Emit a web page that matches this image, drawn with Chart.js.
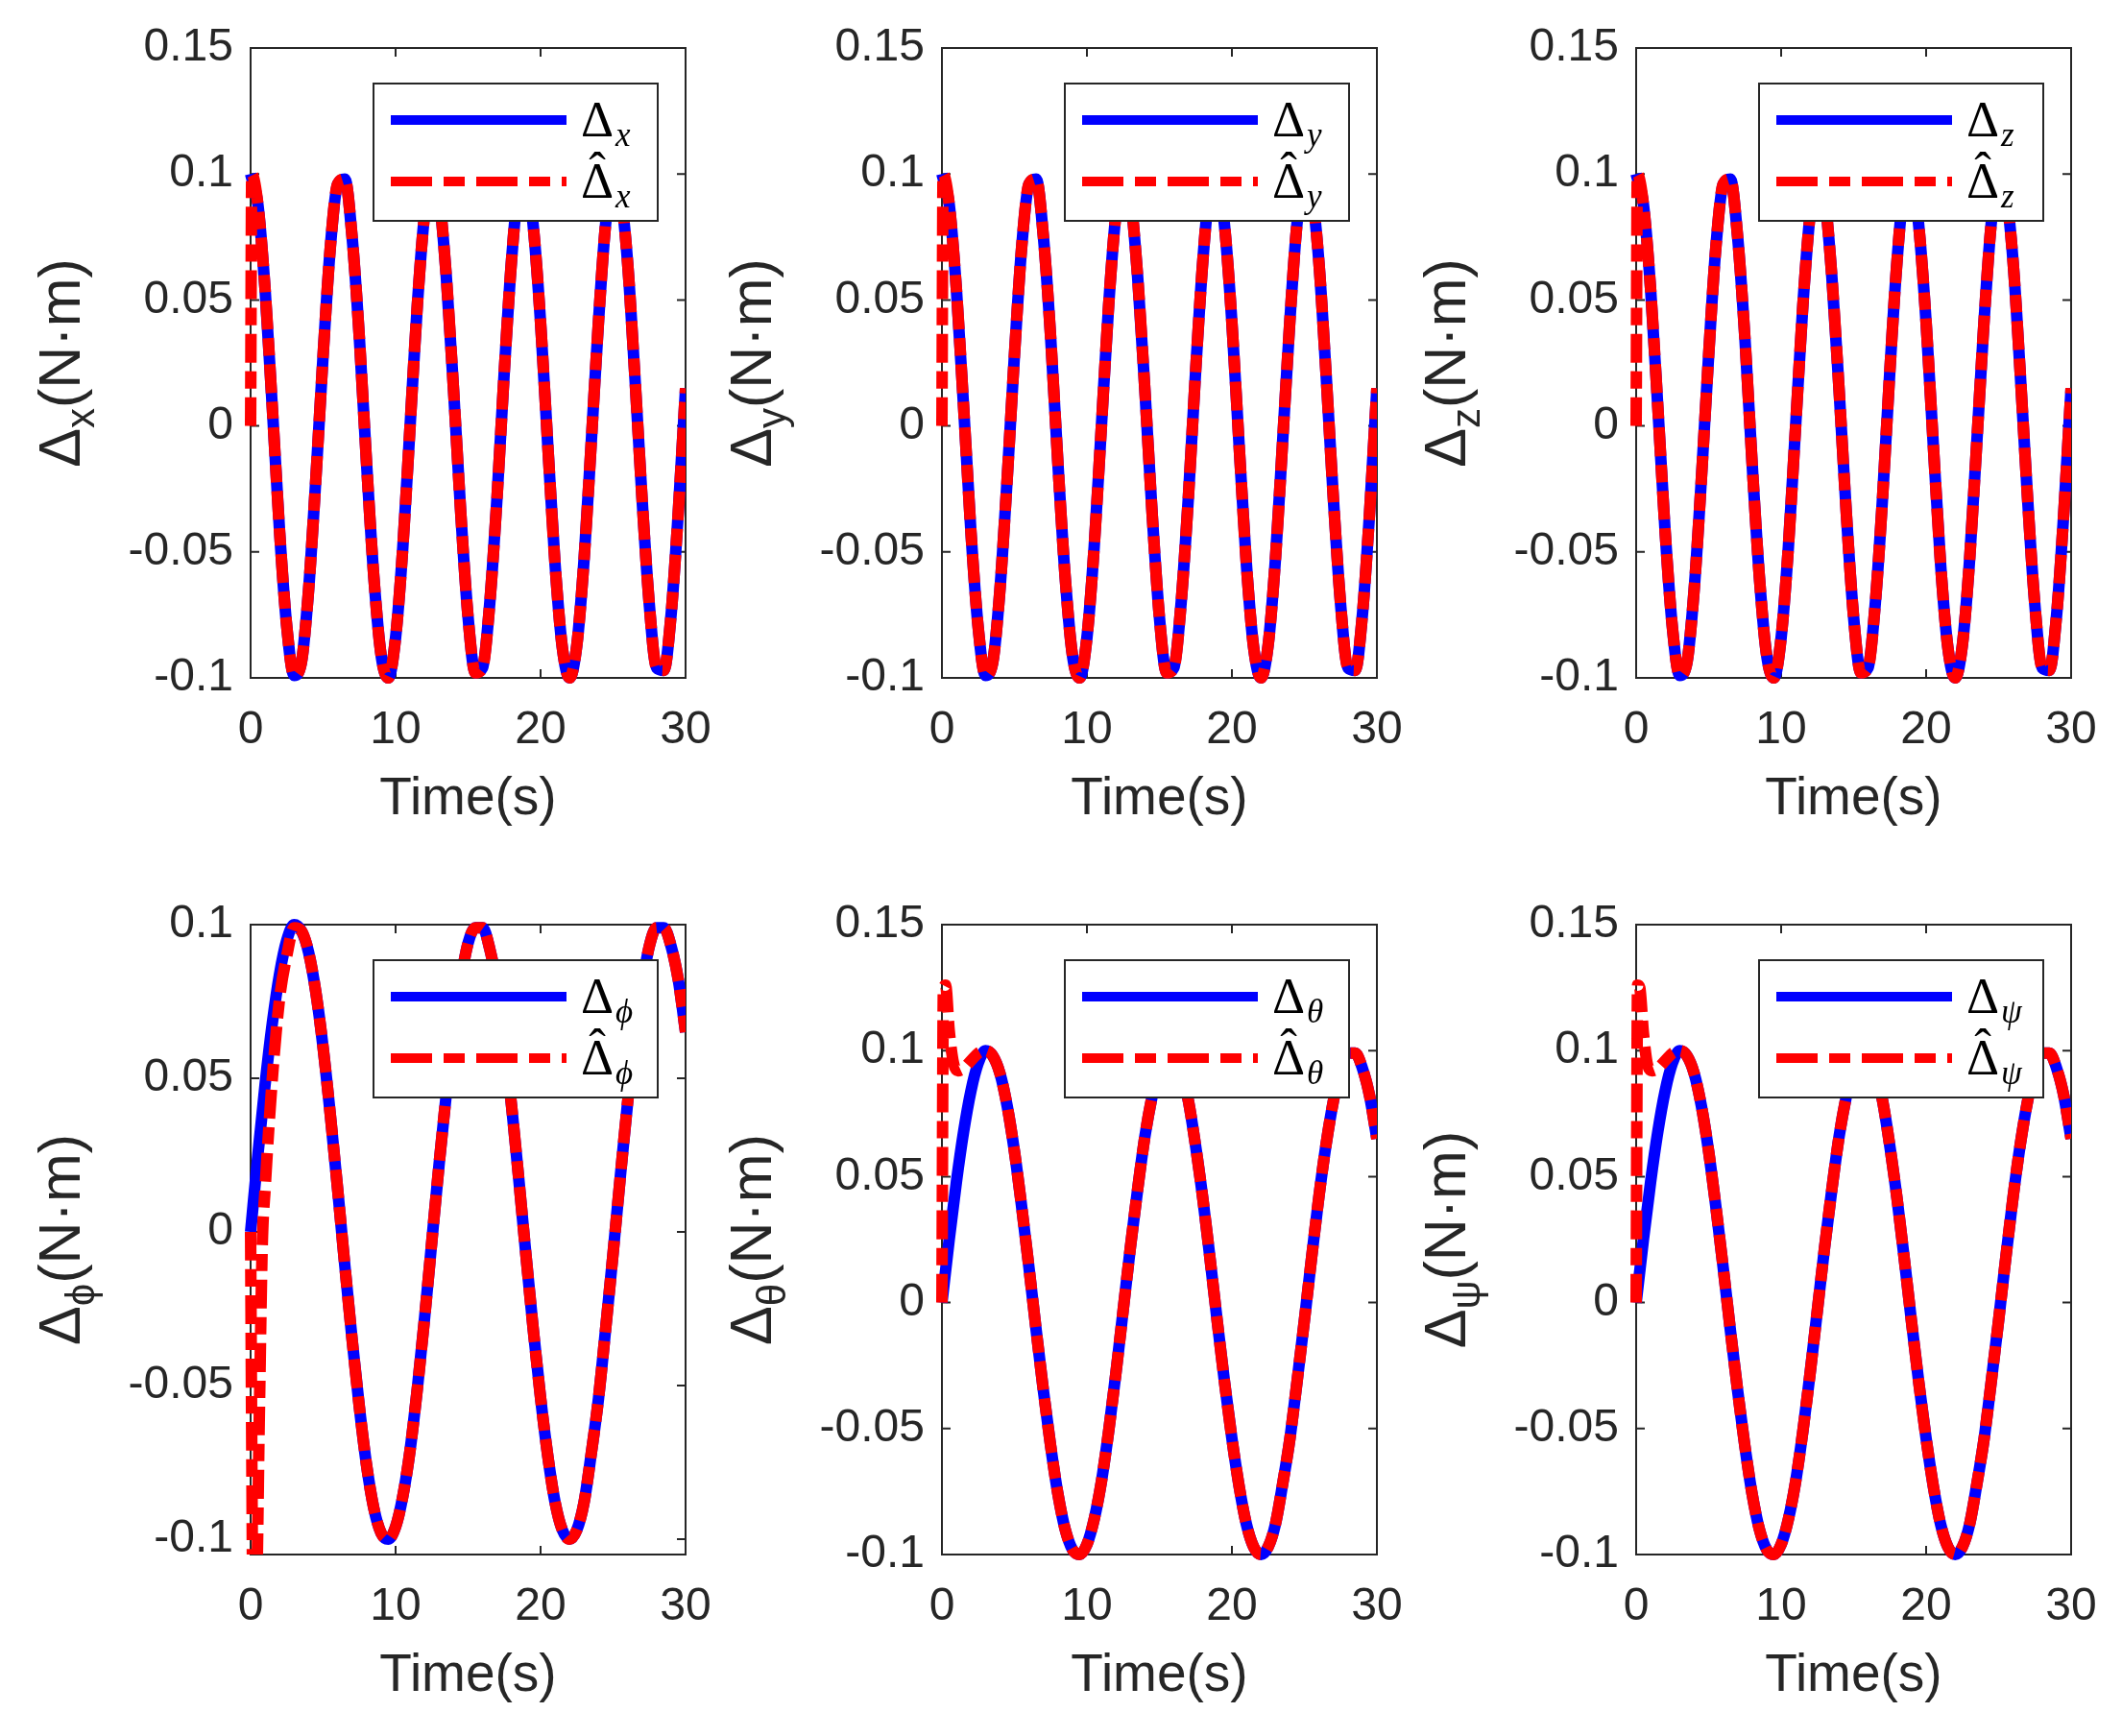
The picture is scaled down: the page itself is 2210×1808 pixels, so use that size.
<!DOCTYPE html>
<html>
<head>
<meta charset="utf-8">
<script src="https://cdn.jsdelivr.net/npm/chart.js@4.4.0/dist/chart.umd.min.js"></script>
<style>
  html, body { margin: 0; padding: 0; background: #fff; }
  body { width: 2210px; height: 1808px; position: relative; overflow: hidden; }
  canvas { position: absolute; }
</style>
</head>
<body>
<canvas id="px"></canvas>
<canvas id="py"></canvas>
<canvas id="pz"></canvas>
<canvas id="pphi"></canvas>
<canvas id="ptheta"></canvas>
<canvas id="ppsi"></canvas>
<script>
// sample times (s)
const times = [0, 0.5, 1, 1.5, 2, 2.5, 3, 3.5, 4, 4.5, 5, 5.5, 6, 6.5, 7, 7.5, 8, 8.5, 9, 9.5,
  10, 10.5, 11, 11.5, 12, 12.5, 13, 13.5, 14, 14.5, 15, 15.5, 16, 16.5, 17, 17.5, 18, 18.5, 19, 19.5,
  20, 20.5, 21, 21.5, 22, 22.5, 23, 23.5, 24, 24.5, 25, 25.5, 26, 26.5, 27, 27.5, 28, 28.5, 29, 29.5, 30];

// tick labels
const xTicks = [0, 10, 20, 30];
const yTicksWide = [-0.1, -0.05, 0, 0.05, 0.1, 0.15];
const yTicksPhi = [-0.1, -0.05, 0, 0.05, 0.1];

// force disturbance (top row, same curve for x, y, z)
const deltaForce = [0.100, 0.088, 0.054, 0.007, -0.042, -0.080, -0.099, -0.094, -0.065, -0.021,
  0.028, 0.071, 0.096, 0.098, 0.075, 0.035, -0.015, -0.060, -0.091, -0.100,
  -0.084, -0.048, 0.000, 0.048, 0.084, 0.100, 0.091, 0.059, 0.014, -0.035,
  -0.076, -0.098, -0.096, -0.070, -0.028, 0.022, 0.066, 0.095, 0.099, 0.079,
  0.041, -0.008, -0.055, -0.088, -0.100, -0.087, -0.053, -0.006, 0.042, 0.081,
  0.099, 0.093, 0.065, 0.020, -0.029, -0.071, -0.096, -0.097, -0.075, -0.034, 0.015];

// moment disturbance (bottom row, same curve for phi, theta, psi)
const deltaMoment = [0.000, 0.025, 0.048, 0.068, 0.084, 0.095, 0.100, 0.098, 0.091, 0.078,
  0.060, 0.038, 0.014, -0.011, -0.035, -0.057, -0.076, -0.090, -0.098, -0.100,
  -0.096, -0.086, -0.071, -0.051, -0.028, -0.003, 0.022, 0.045, 0.066, 0.082,
  0.094, 0.099, 0.099, 0.092, 0.080, 0.062, 0.041, 0.017, -0.008, -0.032,
  -0.054, -0.073, -0.088, -0.097, -0.100, -0.097, -0.088, -0.072, -0.054, -0.031,
  -0.007, 0.018, 0.042, 0.063, 0.080, 0.093, 0.099, 0.099, 0.093, 0.082, 0.065];

// estimator start-up transients (after these the estimate sits on the true curve)
const estForceT = [0, 0.08];
const estForceV = [0, 0.100];
const estPhiT = [0, 0.08, 0.15, 0.4, 0.6, 0.8, 1.0, 1.5, 2.0, 2.5, 3.0];
const estPhiV = [0, -0.070, -0.115, -0.115, -0.060, -0.005, 0.014, 0.050, 0.076, 0.090, 0.099];
const estThetaT = [0, 0.1, 0.25, 0.5, 0.8, 1.1, 1.5, 2.0, 2.5, 3.0];
const estThetaV = [0, 0.124, 0.126, 0.108, 0.095, 0.092, 0.093, 0.096, 0.099, 0.100];
const estPsiT = [0, 0.1, 0.25, 0.5, 0.8, 1.1, 1.5, 2.0, 2.5, 3.0];
const estPsiV = [0, 0.126, 0.125, 0.107, 0.094, 0.092, 0.093, 0.096, 0.099, 0.100];

const panels = [
  { id: 'px', left: 261, top: 50, sub: 'x', trueV: deltaForce, estT: estForceT, estV: estForceV, yMin: -0.1, yMax: 0.15, yTicks: yTicksWide, clipBottom: 6 },
  { id: 'py', left: 981, top: 50, sub: 'y', trueV: deltaForce, estT: estForceT, estV: estForceV, yMin: -0.1, yMax: 0.15, yTicks: yTicksWide, clipBottom: 6 },
  { id: 'pz', left: 1704, top: 50, sub: 'z', trueV: deltaForce, estT: estForceT, estV: estForceV, yMin: -0.1, yMax: 0.15, yTicks: yTicksWide, clipBottom: 6 },
  { id: 'pphi', left: 261, top: 963, sub: 'ϕ', trueV: deltaMoment, estT: estPhiT, estV: estPhiV, yMin: -0.105, yMax: 0.1, yTicks: yTicksPhi, clipBottom: 0 },
  { id: 'ptheta', left: 981, top: 963, sub: 'θ', trueV: deltaMoment, estT: estThetaT, estV: estThetaV, yMin: -0.1, yMax: 0.15, yTicks: yTicksWide, clipBottom: 6 },
  { id: 'ppsi', left: 1704, top: 963, sub: 'ψ', trueV: deltaMoment, estT: estPsiT, estV: estPsiV, yMin: -0.1, yMax: 0.15, yTicks: yTicksWide, clipBottom: 6 }
];

const CANVAS_W = 760, CANVAS_H = 880;
const AXIS_LEFT = 261, AXIS_TOP = 50, PLOT_W = 453, PLOT_H = 656;
const INK = '#262626';
const SANS = '"Liberation Sans", Arial, Helvetica, sans-serif';
const SERIF = '"Liberation Serif", "DejaVu Serif", "Times New Roman", serif';

// MATLAB-ish box, inward ticks, labels and legend
const matlabAxes = {
  id: 'matlabAxes',
  beforeDatasetsDraw(chart, args, opts) {
    const { ctx, chartArea: a, scales } = chart;
    ctx.save();
    ctx.strokeStyle = INK;
    ctx.lineWidth = 2;
    ctx.strokeRect(a.left, a.top, a.right - a.left, a.bottom - a.top);
    ctx.beginPath();
    xTicks.forEach(v => {
      const px = scales.x.getPixelForValue(v);
      ctx.moveTo(px, a.bottom); ctx.lineTo(px, a.bottom - 9);
      ctx.moveTo(px, a.top); ctx.lineTo(px, a.top + 9);
    });
    opts.yTicks.forEach(v => {
      const py = scales.y.getPixelForValue(v);
      ctx.moveTo(a.left, py); ctx.lineTo(a.left + 9, py);
      ctx.moveTo(a.right, py); ctx.lineTo(a.right - 9, py);
    });
    ctx.stroke();
    ctx.restore();
  },
  afterDatasetsDraw(chart, args, opts) {
    const { ctx, chartArea: a } = chart;
    ctx.save();

    // x title
    ctx.fillStyle = INK;
    ctx.font = '55px ' + SANS;
    ctx.textAlign = 'center';
    ctx.textBaseline = 'middle';
    ctx.fillText('Time(s)', (a.left + a.right) / 2, a.bottom + 127);

    // y title, rotated, with subscript
    ctx.save();
    ctx.translate(a.left - 200, (a.top + a.bottom) / 2);
    ctx.rotate(-Math.PI / 2);
    ctx.textAlign = 'left';
    ctx.textBaseline = 'alphabetic';
    ctx.font = '61px ' + SANS;
    const wD = ctx.measureText('Δ').width;
    const wR = ctx.measureText('(N·m)').width;
    ctx.font = '42px ' + SANS;
    const wS = ctx.measureText(opts.sub).width;
    let x0 = -(wD + wS + wR) / 2;
    ctx.font = '61px ' + SANS;
    ctx.fillText('Δ', x0, 22);
    ctx.font = '42px ' + SANS;
    ctx.fillText(opts.sub, x0 + wD, 37);
    ctx.font = '61px ' + SANS;
    ctx.fillText('(N·m)', x0 + wD + wS, 22);
    ctx.restore();

    // legend
    const W = 296, H = 143;
    const L = a.right - 29 - W, T = a.top + 37;
    ctx.fillStyle = '#fff';
    ctx.fillRect(L, T, W, H);
    ctx.strokeStyle = INK;
    ctx.lineWidth = 2;
    ctx.setLineDash([]);
    ctx.strokeRect(L, T, W, H);
    const y1 = T + 38, y2 = T + 102;
    ctx.lineWidth = 10;
    ctx.lineCap = 'butt';
    ctx.strokeStyle = '#0000ff';
    ctx.beginPath(); ctx.moveTo(L + 18, y1); ctx.lineTo(L + 201, y1); ctx.stroke();
    ctx.strokeStyle = '#ff0000';
    ctx.setLineDash([43, 12, 22, 12]);
    ctx.beginPath(); ctx.moveTo(L + 18, y2); ctx.lineTo(L + 201, y2); ctx.stroke();
    ctx.setLineDash([]);

    ctx.fillStyle = '#000';
    ctx.textAlign = 'left';
    ctx.textBaseline = 'alphabetic';
    [y1, y2].forEach((yc, i) => {
      const tx = L + 216;
      ctx.font = '53px ' + SERIF;
      const wd = ctx.measureText('Δ').width;
      ctx.fillText('Δ', tx, yc + 17);
      if (i === 1) {
        ctx.textAlign = 'center';
        ctx.fillText('ˆ', tx + wd / 2, yc + 6);
        ctx.textAlign = 'left';
      }
      ctx.font = 'italic 35px ' + SERIF;
      ctx.fillText(opts.sub, tx + wd + 2, yc + 27);
    });
    ctx.restore();
  }
};

const toPoints = (ts, vs) => ts.map((t, i) => ({ x: t, y: vs[i] }));

panels.forEach(p => {
  const canvas = document.getElementById(p.id);
  canvas.width = CANVAS_W;
  canvas.height = CANVAS_H;
  canvas.style.width = CANVAS_W + 'px';
  canvas.style.height = CANVAS_H + 'px';
  canvas.style.left = (p.left - AXIS_LEFT) + 'px';
  canvas.style.top = (p.top - AXIS_TOP) + 'px';

  const truePts = toPoints(times, p.trueV);
  const lastT = p.estT[p.estT.length - 1];
  const estPts = toPoints(p.estT, p.estV).concat(truePts.filter(pt => pt.x > lastT));
  const clip = { left: 7, top: 6, right: 0, bottom: p.clipBottom };

  new Chart(canvas, {
    type: 'line',
    data: {
      datasets: [
        {
          label: 'estimate',
          data: estPts,
          borderColor: '#ff0000',
          borderWidth: 12,
          borderDash: [30, 9, 18, 9],
          pointRadius: 0,
          cubicInterpolationMode: 'monotone',
          fill: false,
          clip: clip
        },
        {
          label: 'true',
          data: truePts,
          borderColor: '#0000ff',
          borderWidth: 12,
          pointRadius: 0,
          cubicInterpolationMode: 'monotone',
          fill: false,
          clip: clip
        }
      ]
    },
    options: {
      responsive: false,
      animation: false,
      devicePixelRatio: 1,
      layout: { padding: { left: 0, top: AXIS_TOP, right: CANVAS_W - AXIS_LEFT - PLOT_W, bottom: 0 } },
      plugins: {
        legend: { display: false },
        tooltip: { enabled: false },
        matlabAxes: { sub: p.sub, yTicks: p.yTicks }
      },
      scales: {
        x: {
          type: 'linear',
          min: 0,
          max: 30,
          grid: { display: false, drawTicks: false },
          border: { display: false },
          ticks: { color: INK, font: { family: SANS, size: 48 }, padding: 26, maxRotation: 0, callback: v => String(v) },
          afterBuildTicks: s => { s.ticks = xTicks.map(v => ({ value: v })); },
          afterFit: s => { s.height = CANVAS_H - AXIS_TOP - PLOT_H; s.paddingLeft = 0; s.paddingRight = 0; }
        },
        y: {
          type: 'linear',
          min: p.yMin,
          max: p.yMax,
          grid: { display: false, drawTicks: false },
          border: { display: false },
          ticks: { color: INK, font: { family: SANS, size: 48 }, padding: 18, callback: v => String(v) },
          afterBuildTicks: s => { s.ticks = p.yTicks.map(v => ({ value: v })); },
          afterFit: s => { s.width = AXIS_LEFT; s.paddingTop = 0; s.paddingBottom = 0; }
        }
      }
    },
    plugins: [matlabAxes]
  });
});
</script>
</body>
</html>
